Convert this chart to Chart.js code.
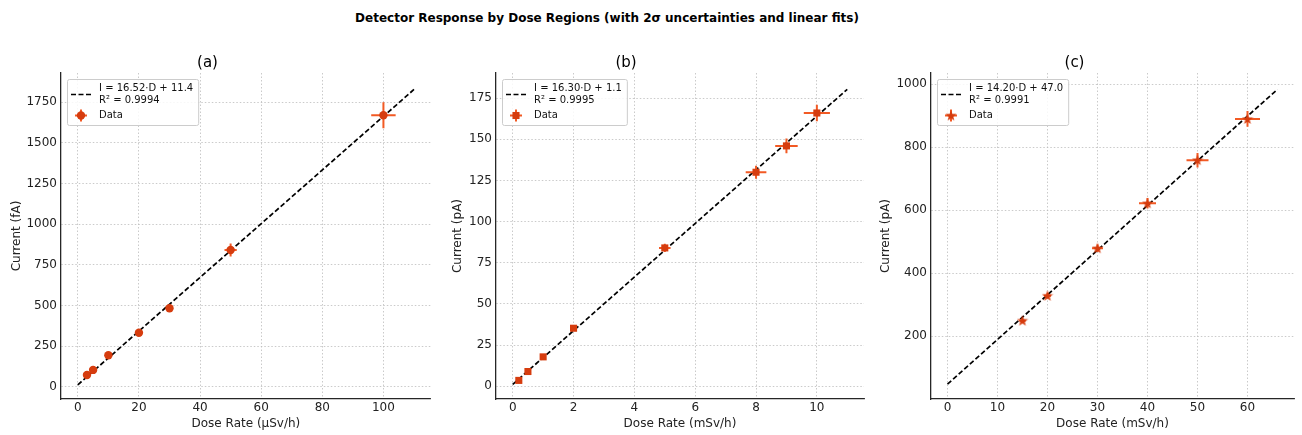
<!DOCTYPE html>
<html>
<head>
	<meta charset="UTF-8">
	<title>Detector Response by Dose Regions</title>
	<script src="https://cdn.jsdelivr.net/npm/chart.js@4.4.1/dist/chart.umd.min.js"></script>
	<style>
		body { margin: 0; background: #fff; overflow: hidden; }
		#page { position: relative; width: 1302px; height: 435px; overflow: hidden; }
		#title { position: absolute; left: 0; top: 10px; width: 1214px; text-align: center;
			font: bold 12px "DejaVu Sans", sans-serif; line-height: 16px; color: #000; }
		canvas { position: absolute; top: 0; }
	</style>
	<script>
		// (a) low dose region, µSv/h -> fA
		var doseA = [3, 5, 10, 20, 30, 50, 100];
		var currentA = [72, 103, 193, 332, 482, 841, 1670];
		var doseErrA = [0.1, 0.2, 0.3, 0.6, 1.0, 2.0, 4.0];
		var currentErrA = [3, 4, 8, 12, 18, 40, 80];
		var fitA = [[0, 11.4], [110, 1828.6]];
		var fitLabelA = ['I = 16.52·D + 11.4', 'R² = 0.9994'];
		var xTicksA = [0, 20, 40, 60, 80, 100];
		var yTicksA = [0, 250, 500, 750, 1000, 1250, 1500, 1750];

		// (b) mid dose region, mSv/h -> pA
		var doseB = [0.2, 0.5, 1, 2, 5, 8, 9, 10];
		var currentB = [3.5, 8.9, 17.8, 35.2, 84, 130, 146, 166];
		var doseErrB = [0.01, 0.02, 0.04, 0.08, 0.19, 0.34, 0.37, 0.43];
		var currentErrB = [0.2, 0.4, 0.8, 1.5, 2.5, 4, 4.5, 5];
		var fitB = [[0, 1.1], [11, 180.4]];
		var fitLabelB = ['I = 16.30·D + 1.1', 'R² = 0.9995'];
		var xTicksB = [0, 2, 4, 6, 8, 10];
		var yTicksB = [0, 25, 50, 75, 100, 125, 150, 175];

		// (c) high dose region, mSv/h -> pA
		var doseC = [15, 20, 30, 40, 50, 60];
		var currentC = [249, 328, 479, 622, 759, 890];
		var doseErrC = [0.6, 0.7, 1.1, 1.7, 2.2, 2.5];
		var currentErrC = [6, 8, 12, 17, 23, 25];
		var fitC = [[0, 47.0], [66, 984.2]];
		var fitLabelC = ['I = 14.20·D + 47.0', 'R² = 0.9991'];
		var xTicksC = [0, 10, 20, 30, 40, 50, 60];
		var yTicksC = [200, 400, 600, 800, 1000];

		var MARK = '#d63c0e';
		var ERR = '#f25a24';
		var FONT = '"DejaVu Sans", sans-serif';

		function starMarker() {
			var c = document.createElement('canvas');
			c.width = 12; c.height = 12;
			var g = c.getContext('2d');
			g.fillStyle = MARK;
			g.beginPath();
			for (var i = 0; i < 10; i++) {
				var r = i % 2 ? 2.4 : 5.8;
				var a = -Math.PI / 2 + i * Math.PI / 5;
				g.lineTo(6 + r * Math.cos(a), 6.4 + r * Math.sin(a));
			}
			g.closePath();
			g.fill();
			return c;
		}

		var errorBars = {
			id: 'errorBars',
			beforeDatasetDraw: function(chart, args) {
				var ds = chart.data.datasets[args.index];
				if (!ds.xErr) return;
				var ctx = chart.ctx, x = chart.scales.x, y = chart.scales.y;
				ctx.save();
				ctx.strokeStyle = ERR;
				ctx.lineWidth = 2;
				ds.data.forEach(function(p, i) {
					var px = x.getPixelForValue(p.x), py = y.getPixelForValue(p.y);
					ctx.beginPath();
					ctx.moveTo(x.getPixelForValue(p.x - ds.xErr[i]), py);
					ctx.lineTo(x.getPixelForValue(p.x + ds.xErr[i]), py);
					ctx.moveTo(px, y.getPixelForValue(p.y - ds.yErr[i]));
					ctx.lineTo(px, y.getPixelForValue(p.y + ds.yErr[i]));
					ctx.stroke();
				});
				ctx.restore();
			}
		};

		// matplotlib style legend box in the upper left corner
		var boxLegend = {
			id: 'boxLegend',
			afterDraw: function(chart, args, opts) {
				var ctx = chart.ctx, area = chart.chartArea;
				var ds = chart.data.datasets[1];
				ctx.save();
				ctx.font = '10px ' + FONT;
				var tw = Math.max.apply(null, opts.fitText.concat(['Data']).map(function(t) { return ctx.measureText(t).width; }));
				var bx = area.left + 6, by = area.top + 6, bw = 32 + tw + 5, bh = 46;
				ctx.fillStyle = 'rgba(255,255,255,0.85)';
				ctx.strokeStyle = '#cccccc';
				ctx.lineWidth = 1;
				ctx.beginPath();
				ctx.roundRect(bx + 0.5, by + 0.5, bw, bh, 2);
				ctx.fill();
				ctx.stroke();

				ctx.strokeStyle = '#000';
				ctx.lineWidth = 1.7;
				ctx.setLineDash([5, 2.5]);
				ctx.beginPath();
				ctx.moveTo(bx + 4, by + 15.5);
				ctx.lineTo(bx + 24, by + 15.5);
				ctx.stroke();
				ctx.setLineDash([]);

				ctx.fillStyle = '#111';
				ctx.textBaseline = 'middle';
				ctx.fillText(opts.fitText[0], bx + 32, by + 9.5);
				ctx.fillText(opts.fitText[1], bx + 32, by + 21.5);
				ctx.fillText('Data', bx + 32, by + 36.5);

				var mx = bx + 14, my = by + 36.5;
				ctx.strokeStyle = ERR;
				ctx.lineWidth = 2;
				ctx.beginPath();
				ctx.moveTo(mx - 6, my); ctx.lineTo(mx + 6, my);
				ctx.moveTo(mx, my - 6); ctx.lineTo(mx, my + 6);
				ctx.stroke();
				ctx.fillStyle = MARK;
				ctx.strokeStyle = MARK;
				Chart.helpers.drawPoint(ctx, {pointStyle: ds.pointStyle, radius: ds.pointRadius, rotation: 0, borderWidth: 0}, mx, my);
				ctx.restore();
			}
		};

		function pairs(xs, ys) {
			return xs.map(function(v, i) { return {x: v, y: ys[i]}; });
		}

		function makePanel(p) {
			var cv = document.createElement('canvas');
			cv.width = p.width;
			cv.height = 435;
			cv.style.left = p.left + 'px';
			document.getElementById('page').appendChild(cv);

			new Chart(cv.getContext('2d'), {
				type: 'scatter',
				data: {
					datasets: [{
						data: p.fit.map(function(f) { return {x: f[0], y: f[1]}; }),
						showLine: true,
						borderColor: '#000',
						borderWidth: 1.7,
						borderDash: [5, 2.5],
						pointRadius: 0,
						order: 2
					}, {
						data: pairs(p.dose, p.current),
						xErr: p.doseErr,
						yErr: p.currentErr,
						pointStyle: p.marker,
						pointRadius: p.radius,
						backgroundColor: MARK,
						borderColor: MARK,
						borderWidth: 0,
						order: 1
					}]
				},
				options: {
					responsive: false,
					animation: false,
					events: [],
					layout: { padding: { top: 54, left: 0, right: 0, bottom: 0 } },
					plugins: {
						legend: { display: false },
						tooltip: { enabled: false },
						title: {
							display: true,
							text: p.title,
							color: '#000',
							font: { family: FONT, size: 15, weight: 'normal', lineHeight: 1.2 },
							padding: { top: 0, bottom: 1 }
						},
						boxLegend: { fitText: p.fitText }
					},
					scales: {
						x: {
							type: 'linear',
							min: p.xMin, max: p.xMax,
							afterBuildTicks: function(s) { s.ticks = p.xTicks.map(function(v) { return {value: v}; }); },
							afterFit: function(s) { s.height = 36; },
							ticks: { color: '#222', padding: 2, maxRotation: 0, font: { family: FONT, size: 12 },
								callback: function(v) { return String(v); } },
							grid: { color: '#bdbdbd', lineWidth: 0.8, drawTicks: false },
							border: { display: true, color: '#262626', width: 1.3, dash: [1.5, 2] },
							title: { display: true, text: p.xLabel, color: '#222', font: { family: FONT, size: 12 },
								padding: { top: 0, bottom: 4 } }
						},
						y: {
							type: 'linear',
							min: p.yMin, max: p.yMax,
							afterBuildTicks: function(s) { s.ticks = p.yTicks.map(function(v) { return {value: v}; }); },
							afterFit: function(s) { s.width = p.yWidth; },
							ticks: { color: '#222', padding: 4, font: { family: FONT, size: 12 },
								callback: function(v) { return String(v); } },
							grid: { color: '#bdbdbd', lineWidth: 0.8, drawTicks: false },
							border: { display: true, color: '#262626', width: 1.3, dash: [1.5, 2] },
							title: { display: true, text: p.yLabel, color: '#222', font: { family: FONT, size: 12 },
								padding: { top: p.yTitlePad, bottom: 0 } }
						}
					}
				},
				plugins: [errorBars, boxLegend]
			});
		}

		window.onload = function() {
			makePanel({ title: '(a)', left: -20, width: 455, yWidth: 81, yTitlePad: 30,
				dose: doseA, current: currentA, doseErr: doseErrA, currentErr: currentErrA,
				fit: fitA, fitText: fitLabelA, xTicks: xTicksA, yTicks: yTicksA,
				xMin: -5.5, xMax: 115.5, yMin: -76, yMax: 1930,
				marker: 'circle', radius: 4.2,
				xLabel: 'Dose Rate (µSv/h)', yLabel: 'Current (fA)' });
			makePanel({ title: '(b)', left: 383, width: 486, yWidth: 113, yTitlePad: 68,
				dose: doseB, current: currentB, doseErr: doseErrB, currentErr: currentErrB,
				fit: fitB, fitText: fitLabelB, xTicks: xTicksB, yTicks: yTicksB,
				xMin: -0.55, xMax: 11.55, yMin: -7.8, yMax: 190.3,
				marker: 'rect', radius: 5,
				xLabel: 'Dose Rate (mSv/h)', yLabel: 'Current (pA)' });
			makePanel({ title: '(c)', left: 849, width: 451, yWidth: 82, yTitlePad: 30,
				dose: doseC, current: currentC, doseErr: doseErrC, currentErr: currentErrC,
				fit: fitC, fitText: fitLabelC, xTicks: xTicksC, yTicks: yTicksC,
				xMin: -3.3, xMax: 69.3, yMin: 0, yMax: 1036,
				marker: starMarker(), radius: 6,
				xLabel: 'Dose Rate (mSv/h)', yLabel: 'Current (pA)' });
		};
	</script>
</head>
<body>
	<div id="page">
		<div id="title">Detector Response by Dose Regions (with 2σ uncertainties and linear fits)</div>
	</div>
</body>
</html>
